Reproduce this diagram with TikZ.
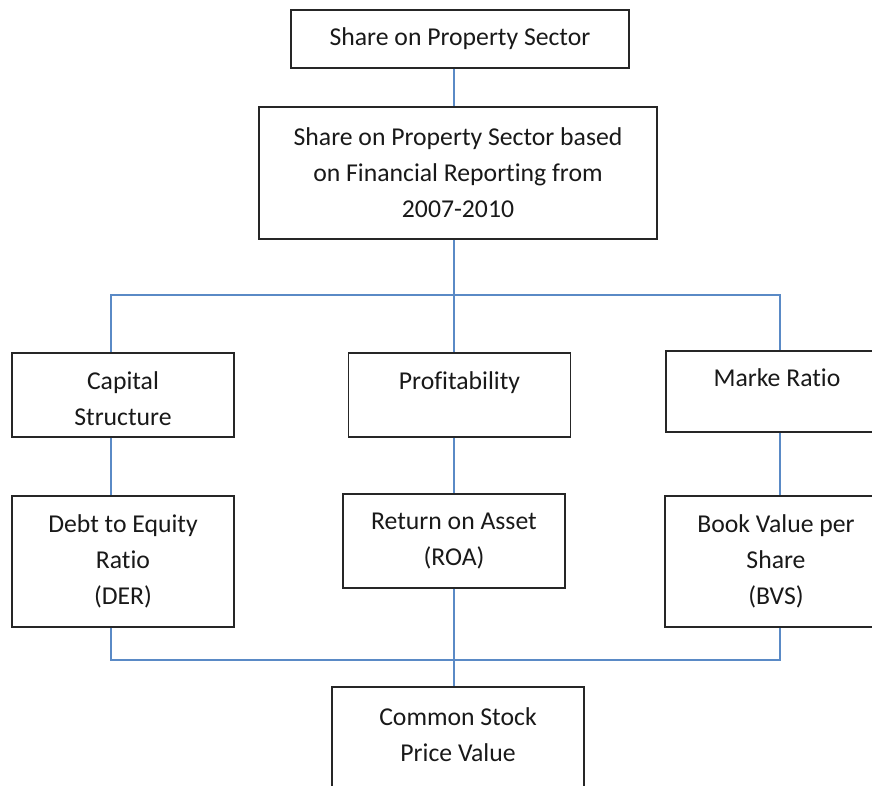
\documentclass[tikz,border=0pt]{standalone}
\usepackage{fontspec}
\setmainfont{Carlito}[Ligatures={NoCommon}]
\newcommand{\tallline}{\rule{0pt}{25pt}}
\begin{document}
\begin{tikzpicture}[x=1pt,y=-1pt]
\definecolor{lnk}{HTML}{5A8AC6}
\tikzset{
  box/.style={draw=black!85, line width=1.6pt, fill=white, inner sep=0pt,
    align=center, minimum width=222pt, text=black!90,
    font=\fontsize{25.7}{36}\selectfont},
  conn/.style={draw=lnk, line width=1.5pt}}
\useasboundingbox (0,0) rectangle (872,785);
\clip (0,0) rectangle (872,785);

% boxes
\node[box, minimum width=338pt, minimum height=58pt] (top) at (460,39) {Share on Property Sector};
\node[box, minimum width=398pt, minimum height=132pt] (mid) at (458,173)
  {Share on Property Sector based\\on Financial Reporting from\\2007-2010};
\node[box, minimum height=84pt] (cap) at (123,395) {\tallline Capital\\Structure};
\node[box, minimum height=84pt] (prof) at (459.5,395) {\tallline Profitability\\~};
\node[box, minimum height=81pt] (mar) at (777,391.5) {\tallline Marke Ratio\\~};
\node[box, minimum height=131pt] (der) at (123,561.5) {Debt to Equity\\Ratio\\(DER)};
\node[box, minimum height=94pt] (roa) at (454,541) {Return on Asset\\(ROA)};
\node[box, minimum height=131pt] (bvs) at (776,561.5) {Book Value per\\Share\\(BVS)};
\node[box, minimum width=252pt, minimum height=131pt] (stock) at (458,752.5)
  {Common Stock\\Price Value\\~};

% junction points of the connectors
\coordinate (hl) at (111,295);
\coordinate (hm) at (454,295);
\coordinate (hr) at (780,295);
\coordinate (bl) at (111,660);
\coordinate (bm) at (454,660);
\coordinate (br) at (780,660);

% connectors
\draw[conn] (top.south -| hm) -- (mid.north -| hm);
\draw[conn] (mid.south -| hm) -- (hm);
\draw[conn] (cap.north -| hl) -- (hl) -- (hr) -- (mar.north -| hr);
\draw[conn] (hm) -- (prof.north -| hm);
\draw[conn] (cap.south -| hl) -- (der.north -| hl);
\draw[conn] (prof.south -| hm) -- (roa.north -| hm);
\draw[conn] (mar.south -| hr) -- (bvs.north -| hr);
\draw[conn] (der.south -| bl) -- (bl) -- (br) -- (bvs.south -| br);
\draw[conn] (roa.south -| bm) -- (stock.north -| bm);
\end{tikzpicture}
\end{document}
